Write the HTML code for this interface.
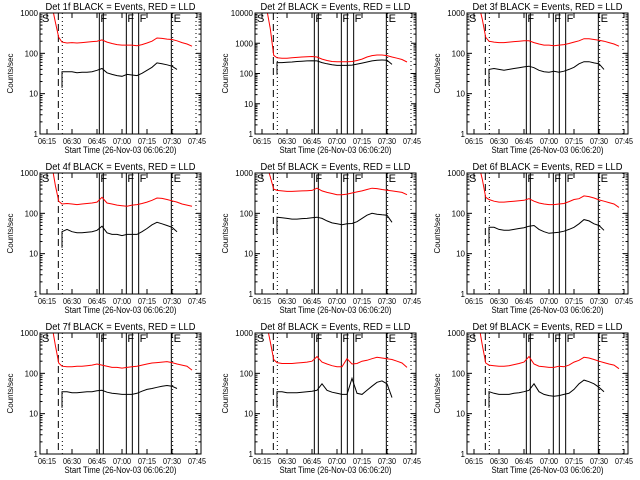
<!DOCTYPE html>
<html><head><meta charset="utf-8"><style>
html,body{margin:0;padding:0;background:#fff;}
svg{display:block;font-family:"Liberation Sans",sans-serif;}
</style></head><body>
<svg id="chart" width="640" height="480" viewBox="0 0 640 480"></svg>
<script>
const times=[3,5,7,9,12,15,18,21,24,27,30,33,36,39,42,45,48,51,54,57,60,63,66,69,72,75,78,81,84,87];
const xTickLabels=["06:15","06:30","06:45","07:00","07:15","07:30","07:45"];
const xTickTimes=[0,15,30,45,60,75,90];
const titles=["Det 1f","Det 2f","Det 3f","Det 4f","Det 5f","Det 6f","Det 7f","Det 8f","Det 9f"];
const yMaxDecades=[3,4,3,3,3,3,3,3,3];
const red1=[1500,600,250,190,180,185,180,185,190,195,200,215,190,175,165,160,160,160,155,165,180,200,240,235,225,220,205,185,170,150];
const black1=[35,35,35,33,34,34,35,38,42,33,30,28,27,30,29,28,32,38,45,58,55,52,48,40];
const red2=[12000,3000,400,330,320,320,330,340,350,360,365,350,300,270,250,245,245,245,250,270,300,350,390,410,410,390,350,320,290,240];
const black2=[230,230,235,240,250,255,260,265,260,230,210,195,185,185,185,190,205,220,240,260,275,280,275,200];
const red3=[1500,700,250,200,190,185,185,190,195,200,205,205,185,170,160,160,155,160,165,175,190,205,230,230,220,210,200,185,170,150];
const black3=[40,42,40,38,40,42,44,46,48,44,38,35,34,36,34,36,40,45,55,62,62,58,55,40];
const red4=[1500,500,200,170,175,170,165,170,175,180,190,250,180,170,160,155,150,160,165,175,190,210,240,235,220,205,190,170,160,150];
const black4=[35,40,35,33,33,34,35,38,48,33,30,30,28,30,30,30,35,42,52,60,55,50,45,35];
const red5=[1500,800,400,370,360,350,350,355,360,365,370,420,360,330,310,290,290,300,320,340,360,390,420,410,390,375,360,345,330,290];
const black5=[80,78,75,72,72,74,75,78,80,75,65,58,55,52,55,56,62,75,90,100,95,92,90,60];
const red6=[1500,700,250,220,200,190,190,195,200,205,210,230,200,180,170,165,165,170,175,195,220,230,270,260,240,215,200,185,170,140];
const black6=[45,45,40,38,38,40,42,44,48,50,40,35,32,33,34,36,40,45,55,70,65,55,50,38];
const red7=[1500,500,180,150,145,145,150,150,155,160,170,160,150,140,140,135,140,145,150,160,170,180,185,190,195,185,170,160,150,120];
const black7=[35,35,33,33,34,35,35,37,38,34,32,31,30,30,30,32,36,40,42,45,48,50,48,42];
const red8=[1500,600,220,185,175,175,175,180,185,190,200,260,190,170,155,145,145,230,170,175,200,210,230,250,240,230,220,200,180,140];
const black8=[35,35,33,33,33,34,35,36,38,55,38,34,32,30,30,75,32,30,38,48,60,65,55,25];
const red9=[1500,500,180,160,155,150,150,155,165,175,190,260,170,150,145,140,140,150,145,160,190,210,250,240,220,200,185,170,160,130];
const black9=[35,32,30,30,30,32,33,35,38,55,35,30,28,27,28,30,32,40,55,68,62,55,45,35];
const reds=[red1,red2,red3,red4,red5,red6,red7,red8,red9];
const blacks=[black1,black2,black3,black4,black5,black6,black7,black8,black9];
const blackStart=3;
const markerTimes={dashed:6.8,dotted:9.2,f:[31.4,33.8,47.6,51.2,55],eSolid:74.6,eDotted:75.4,endDotted:89.4};

const NS="http://www.w3.org/2000/svg";
const svg=document.getElementById('chart');
function mk(tag,attrs,parent){const e=document.createElementNS(NS,tag);for(const k in attrs)e.setAttribute(k,attrs[k]);(parent||svg).appendChild(e);return e;}
const lefts=[40,255,467], tops=[13,173,333], W=161, H=121;
for(let p=0;p<9;p++){
  const L=lefts[p%3], T=tops[Math.floor(p/3)], B=T+H, R=L+W;
  const dec=yMaxDecades[p];
  const x=t=>L+7+t*25/15;
  const y=v=>B-Math.log10(Math.max(v,1))/dec*H;
  const g=mk('g',{});
  
  
  const clipId='c'+p;
  const cp=mk('clipPath',{id:clipId},g); mk('rect',{x:L,y:T,width:W,height:H},cp);
  const t=mk('text',{x:(L+R)/2-75,y:T-3,'font-size':10,textLength:150,lengthAdjust:'spacingAndGlyphs'},g);
  t.textContent=titles[p]+" BLACK = Events, RED = LLD";
  
  
  for(let d=0;d<=dec;d++){
    const yy=B-d/dec*H;
    mk('line',{x1:L,x2:L+5,y1:yy,y2:yy,stroke:'#000'},g);
    mk('line',{x1:R,x2:R-5,y1:yy,y2:yy,stroke:'#000'},g);
    const lb=mk('text',{x:L-2,y:yy+3,'font-size':8,'text-anchor':'end'},g);
    lb.textContent=String(Math.pow(10,d));
    
    
    if(d<dec){for(let m=2;m<10;m++){const ym=B-(d+Math.log10(m))/dec*H;
      mk('line',{x1:L,x2:L+2.5,y1:ym,y2:ym,stroke:'#000'},g);
      mk('line',{x1:R,x2:R-2.5,y1:ym,y2:ym,stroke:'#000'},g);}}
  }
  const yl=mk('text',{x:0,y:0,'font-size':8,'text-anchor':'middle',transform:`translate(${L-27},${(T+B)/2}) rotate(-90)`},g);
  yl.textContent="Counts/sec";
  
  
  xTickTimes.forEach((tt,i)=>{
    const xx=x(tt);
    mk('line',{x1:xx,x2:xx,y1:B,y2:B-5,stroke:'#000'},g);
    mk('line',{x1:xx,x2:xx,y1:T,y2:T+5,stroke:'#000'},g);
    const lb=mk('text',{x:xx-9,y:B+10,'font-size':8,textLength:18,lengthAdjust:'spacingAndGlyphs'},g);
    lb.textContent=xTickLabels[i];
    
    
  });
  const xl=mk('text',{x:(L+R)/2-56,y:B+19,'font-size':9,textLength:112,lengthAdjust:'spacingAndGlyphs'},g);
  xl.textContent="Start Time (26-Nov-03 06:06:20)";
  
  
  const vl=(tt,dash,w)=>{const a={x1:x(tt),x2:x(tt),y1:T,y2:B,stroke:'#000','stroke-width':w||1};if(dash)a['stroke-dasharray']=dash;mk('line',a,g);};
  vl(markerTimes.dashed,'7,4');
  vl(markerTimes.dotted,'1,3');
  markerTimes.f.forEach(tt=>vl(tt));
  vl(markerTimes.eSolid);
  vl(markerTimes.eDotted,'1,3');
  vl(markerTimes.endDotted,'1,3');
  const letter=(s,xx)=>{const e=mk('text',{x:xx,y:T+9,'font-size':11},g);e.textContent=s;};
  letter('S',L+2); letter('F',x(markerTimes.f[0])+1); letter('F',x(markerTimes.f[2])+1); letter('F',x(markerTimes.f[4])+1); letter('E',x(markerTimes.eDotted)+1);
  const rp=reds[p].map((v,i)=>x(times[i]).toFixed(1)+','+y(v).toFixed(1)).join(' ');
  const r=mk('polyline',{points:rp,fill:'none',stroke:'#ff0000','stroke-width':1,'clip-path':`url(#${clipId})`},g);
  
  
  const bp=blacks[p].map((v,i)=>x(times[i+blackStart]).toFixed(1)+','+y(v).toFixed(1));
  bp.unshift(x(times[blackStart]).toFixed(1)+','+y(blacks[p][0]*0.4).toFixed(1));
  const b=mk('polyline',{points:bp.join(' '),fill:'none',stroke:'#000','stroke-width':1,'clip-path':`url(#${clipId})`},g);
  
  
  const box=mk('rect',{x:L,y:T,width:W,height:H,fill:'none',stroke:'#000'},g);
  
  
}
</script>
</body></html>
